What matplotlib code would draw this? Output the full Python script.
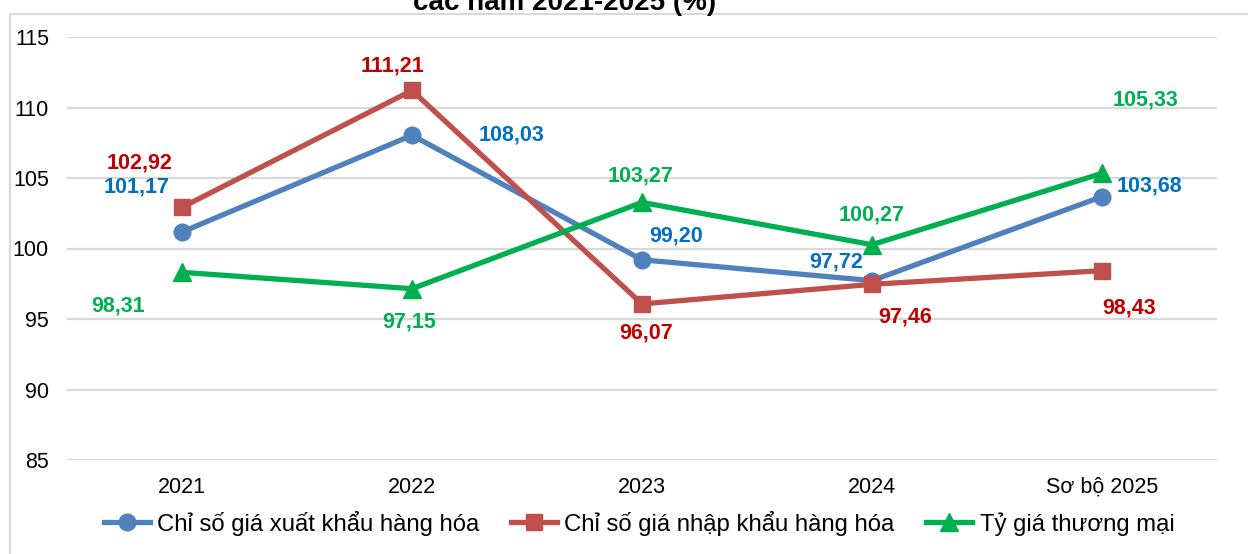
import matplotlib
matplotlib.use("Agg")
import matplotlib.pyplot as plt
from matplotlib.lines import Line2D

plt.rcParams['font.family'] = ['Liberation Sans', 'DejaVu Sans']

categories = ["2021", "2022", "2023", "2024", "Sơ bộ 2025"]
export_idx = [101.17, 108.03, 99.20, 97.72, 103.68]
import_idx = [102.92, 111.21, 96.07, 97.46, 98.43]
tot_idx = [98.31, 97.15, 103.27, 100.27, 105.33]
series_names = ["Chỉ số giá xuất khẩu hàng hóa", "Chỉ số giá nhập khẩu hàng hóa", "Tỷ giá thương mại"]
yticks = [85, 90, 95, 100, 105, 110, 115]
title_line2 = "các năm 2021-2025 (%)"

# label offsets in pixels (dx, dy with dy positive = up)
export_off = [(-45, 45), (100, 0), (34, 24), (-36, 19), (47, 11)]
import_off = [(-42, 44), (-20, 24), (4, -29), (33, -33), (27, -37)]
tot_off = [(-64, -34), (-3, -33), (-1, 26), (0, 30), (44, 73)]

W, H = 1248, 554
fig = plt.figure(figsize=(W / 100, H / 100), dpi=100)
ax = fig.add_axes([67 / W, 1 - 460 / H, (1217 - 67) / W, (460 - 37) / H])

x = list(range(len(categories)))
specs = [
    (export_idx, "#4F81BD", "o", 12, "#0070C0", export_off),
    (import_idx, "#C0504D", "s", 11.5, "#C00000", import_off),
    (tot_idx, "#00B050", "^", 12.5, "#00B050", tot_off),
]
for (vals, col, mk, ms, lcol, offs), name in zip(specs, series_names):
    ax.plot(x, vals, color=col, lw=3.8, marker=mk, ms=ms, mfc=col, mec=col,
            label=name, zorder=3, clip_on=False)
    for xi, v, (dx, dy) in zip(x, vals, offs):
        ax.annotate(f"{v:.2f}".replace(".", ","), (xi, v), xytext=(dx, dy),
                    textcoords="offset pixels", ha="center", va="center",
                    fontsize=15.5, fontweight="bold", color=lcol, zorder=4)

ax.set_xlim(-0.5, len(categories) - 0.5)
ax.set_ylim(85, 115)
ax.set_yticks(yticks)
ax.set_yticklabels([str(t) for t in yticks], fontsize=15.5)
ax.set_xticks(x)
ax.set_xticklabels(categories, fontsize=15.5)
ax.tick_params(axis="both", length=0, colors="black")
ax.tick_params(axis="y", pad=13)
ax.tick_params(axis="x", pad=12)
ax.grid(axis="y", color="#D9D9D9", lw=1.6)
ax.set_axisbelow(True)
for s in ax.spines.values():
    s.set_visible(False)

leg = ax.legend(loc="center", bbox_to_anchor=(639 / W, 1 - 523 / H),
                bbox_transform=fig.transFigure, ncol=3, frameon=False,
                fontsize=17.2, handlelength=1.95, handletextpad=0.3,
                columnspacing=1.3, borderaxespad=0)

# outer frame
fig.add_artist(Line2D([9.5 / W, 9.5 / W, 1.0], [0, 1 - 14 / H, 1 - 14 / H],
                      transform=fig.transFigure, color="#D9D9D9", lw=1.5))

fig.text(565 / W, 1 - 10 / H, title_line2, ha="center", va="baseline",
         fontsize=20, fontweight="bold", color="black")

fig.savefig("out.png", dpi=100)
